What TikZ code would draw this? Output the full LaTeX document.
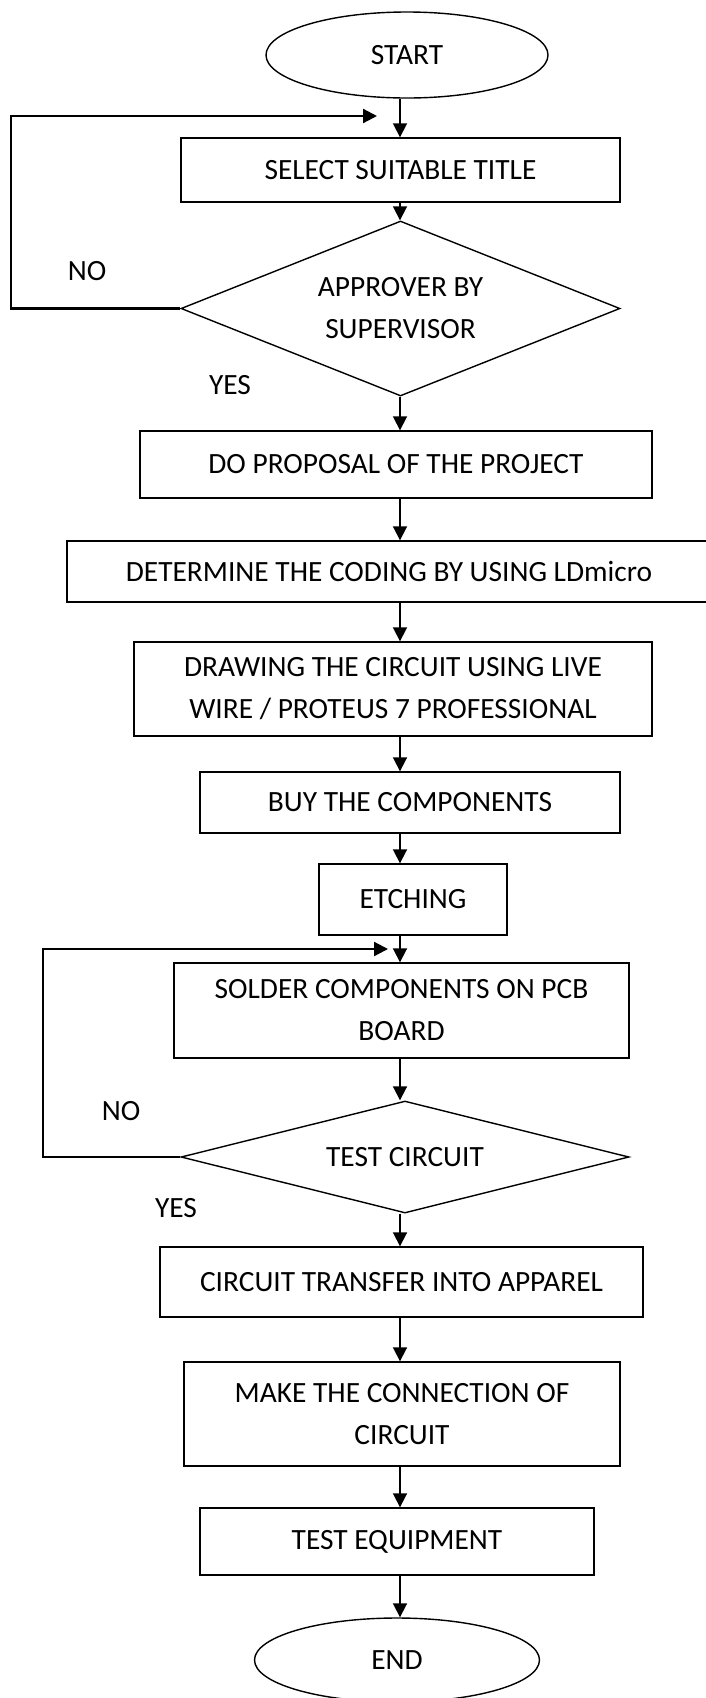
\documentclass[tikz,border=0pt]{standalone}
\usepackage{fontspec}
\setmainfont{Carlito}
\usetikzlibrary{shapes.geometric,arrows.meta}

\begin{document}
\begin{tikzpicture}[x=1pt,y=-1pt,font=\fontsize{29.4}{42}\selectfont,
       flow/.style={-{Triangle[length=14pt,width=14pt]},line width=1.8pt},
       backline/.style={flow,line width=2.3pt}]

    \tikzstyle{block}=[rectangle,draw,line width=1.4pt,inner sep=0pt,align=center]
    \tikzstyle{decision}=[diamond,draw,line width=1.4pt,inner sep=0pt,align=center]
    \tikzstyle{terminal}=[ellipse,draw,line width=1.4pt,inner sep=0pt]
    \tikzstyle{annot}=[inner sep=0pt]

    \useasboundingbox (0,0) rectangle (706,1698);
    \coordinate (axis) at (400,0);

    \node[terminal,minimum width=282pt,minimum height=86pt] (start) at (407,55) {START};
    \node[block,minimum width=439pt,minimum height=64pt] (title) at (400.5,170) {SELECT SUITABLE TITLE};
    \node[decision,aspect=2.5,minimum width=439pt,minimum height=175pt] (approve) at (400.5,308.5) {APPROVER BY\\SUPERVISOR};
    \node[block,minimum width=512pt,minimum height=67pt] (proposal) at (396,464.5) {DO PROPOSAL OF THE PROJECT};
    \node[block,minimum width=644pt,minimum height=61pt] (coding) at (389,571.5) {DETERMINE THE CODING BY USING LDmicro};
    \node[block,minimum width=518pt,minimum height=94pt] (drawing) at (393,689) {DRAWING THE CIRCUIT USING LIVE\\WIRE / PROTEUS 7 PROFESSIONAL};
    \node[block,minimum width=420pt,minimum height=61pt] (buy) at (410,802.5) {BUY THE COMPONENTS};
    \node[block,minimum width=188pt,minimum height=71pt] (etching) at (413,899.5) {ETCHING};
    \node[block,minimum width=455pt,minimum height=95pt] (solder) at (401.5,1010.5) {SOLDER COMPONENTS ON PCB\\BOARD};
    \node[decision,aspect=4,minimum width=448pt,minimum height=112pt] (test) at (405,1157) {TEST CIRCUIT};
    \node[block,minimum width=483pt,minimum height=70pt] (transfer) at (401.5,1282) {CIRCUIT TRANSFER INTO APPAREL};
    \node[block,minimum width=436pt,minimum height=104pt] (connection) at (402,1414) {MAKE THE CONNECTION OF\\CIRCUIT};
    \node[block,minimum width=394pt,minimum height=67pt] (equipment) at (397,1541.5) {TEST EQUIPMENT};
    \node[terminal,minimum width=285pt,minimum height=84pt] (stop) at (397,1660) {END};

    \node[annot] (no1) at (87,271) {NO};
    \node[annot] (yes1) at (230,385) {YES};
    \node[annot] (no2) at (121,1111) {NO};
    \node[annot] (yes2) at (176,1208) {YES};

    % main flow
    \foreach \a/\b in {start/title,title/approve,approve/proposal,proposal/coding,
        coding/drawing,drawing/buy,buy/etching,etching/solder,solder/test,
        test/transfer,transfer/connection,connection/equipment,equipment/stop}
        \draw[flow] (\a.south -| axis) -- (\b.north -| axis);

    % back loops
    \coordinate (back1) at (377,116);
    \draw[backline] (approve.west) -- ++(-169,0) |- (back1);
    \coordinate (back2) at (388,949);
    \draw[backline] (test.west) -- ++(-137,0) |- (back2);

\end{tikzpicture}
\end{document}
